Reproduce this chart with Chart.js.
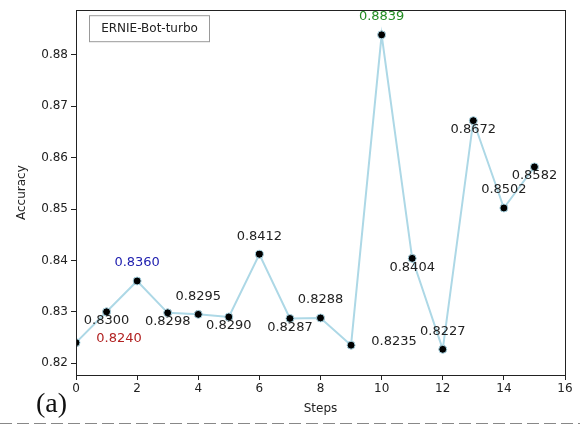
<!DOCTYPE html>
<html>
<head>
<meta charset="utf-8">
<script src="https://cdn.jsdelivr.net/npm/chart.js@4.4.1/dist/chart.umd.min.js"></script>
<style>
  html, body { margin: 0; padding: 0; background: #fff; }
  #wrap { width: 580px; height: 425px; position: relative; }
</style>
</head>
<body>
<div id="wrap"><canvas id="c" width="580" height="425"></canvas></div>
<script>
const steps = [0, 1, 2, 3, 4, 5, 6, 7, 8, 9, 10, 11, 12, 13, 14, 15];
const accuracy = [0.8240, 0.8300, 0.8360, 0.8298, 0.8295, 0.8290, 0.8412, 0.8287,
                  0.8288, 0.8235, 0.8839, 0.8404, 0.8227, 0.8672, 0.8502, 0.8582];
const labelPlacement = ['right', 'below', 'above', 'below', 'above', 'below', 'above', 'below',
                        'above', 'right', 'above', 'below', 'above', 'below', 'above', 'below'];
const labelColors = { 0: '#b22222', 2: '#2222b0', 10: '#228b22' };
const xTicks = [0, 2, 4, 6, 8, 10, 12, 14, 16];
const yTicks = [0.82, 0.83, 0.84, 0.85, 0.86, 0.87, 0.88];
const seriesName = 'ERNIE-Bot-turbo';
const xTitle = 'Steps';
const yTitle = 'Accuracy';

const FONT = "'DejaVu Sans', sans-serif";

const extras = {
  id: 'extras',
  afterDraw(chart) {
    const ctx = chart.ctx;
    const a = chart.chartArea;
    ctx.save();
    // frame (all four spines)
    ctx.strokeStyle = '#222';
    ctx.lineWidth = 1;
    ctx.strokeRect(Math.round(a.left) + 0.5, Math.round(a.top) + 0.5,
                   Math.round(a.right - a.left), Math.round(a.bottom - a.top));
    // value labels
    const meta = chart.getDatasetMeta(0);
    ctx.font = '13px ' + FONT;
    ctx.textAlign = 'center';
    ctx.textBaseline = 'middle';
    meta.data.forEach((pt, i) => {
      let dx = 0, dy = 0;
      const p = labelPlacement[i];
      if (p === 'above') dy = -18;
      else if (p === 'below') dy = 9;
      else if (p === 'right') { dx = 43; dy = -4; }
      ctx.fillStyle = labelColors[i] || '#222';
      ctx.fillText(accuracy[i].toFixed(4), pt.x + dx, pt.y + dy);
    });
    // axis titles
    ctx.fillStyle = '#222';
    ctx.font = '12px ' + FONT;
    ctx.fillText(xTitle, (a.left + a.right) / 2, 409);
    ctx.save();
    ctx.translate(22, (a.top + a.bottom) / 2);
    ctx.rotate(-Math.PI / 2);
    ctx.fillText(yTitle, 0, 0);
    ctx.restore();
    // legend box
    const lx = a.left + 13, ly = a.top + 5, lw = 120, lh = 26;
    ctx.fillStyle = '#fff';
    ctx.fillRect(lx, ly, lw, lh);
    ctx.strokeStyle = '#999';
    ctx.strokeRect(lx + 0.5, ly + 0.5, lw, lh);
    ctx.fillStyle = '#222';
    ctx.font = '12px ' + FONT;
    ctx.fillText(seriesName, lx + lw / 2 + 0.5, ly + lh / 2 + 1);
    // (a) caption
    ctx.font = '28px "Liberation Serif", "Times New Roman", serif';
    ctx.textAlign = 'left';
    ctx.textBaseline = 'alphabetic';
    ctx.fillStyle = '#111';
    ctx.fillText('(a)', 36, 412);
    // dashed separator
    ctx.strokeStyle = '#888';
    ctx.lineWidth = 1;
    ctx.setLineDash([12, 5]);
    ctx.beginPath();
    ctx.moveTo(0, 423.5);
    ctx.lineTo(580, 423.5);
    ctx.stroke();
    ctx.restore();
  }
};

new Chart(document.getElementById('c'), {
  type: 'scatter',
  data: {
    datasets: [{
      label: seriesName,
      data: steps.map((s, i) => ({ x: s, y: accuracy[i] })),
      showLine: true,
      borderColor: '#add8e6',
      borderWidth: 2,
      pointRadius: 4,
      pointBackgroundColor: '#000',
      pointBorderColor: '#add8e6',
      pointBorderWidth: 1,
      tension: 0
    }]
  },
  options: {
    responsive: false,
    animation: false,
    layout: { padding: { left: 0, top: 8, right: 15, bottom: 0 } },
    plugins: {
      legend: { display: false },
      tooltip: { enabled: false }
    },
    scales: {
      x: {
        type: 'linear',
        min: 0, max: 16,
        afterBuildTicks: s => { s.ticks = xTicks.map(v => ({ value: v })); },
        afterFit: s => { s.height = 50; },
        grid: { drawOnChartArea: false, tickLength: 5, color: '#222' },
        border: { color: '#222' },
        ticks: { color: '#222', font: { family: FONT, size: 12 }, padding: 2, maxRotation: 0 },
        title: { display: false }
      },
      y: {
        type: 'linear',
        min: 0.8177, max: 0.8887,
        afterBuildTicks: s => { s.ticks = yTicks.map(v => ({ value: v })); },
        afterFit: s => { s.width = 76; },
        grid: { drawOnChartArea: false, tickLength: 5, color: '#222' },
        border: { color: '#222' },
        ticks: { color: '#222', font: { family: FONT, size: 12 }, padding: 3, callback: v => Number(v).toFixed(2) },
        title: { display: false }
      }
    }
  },
  plugins: [extras]
});
</script>
</body>
</html>
